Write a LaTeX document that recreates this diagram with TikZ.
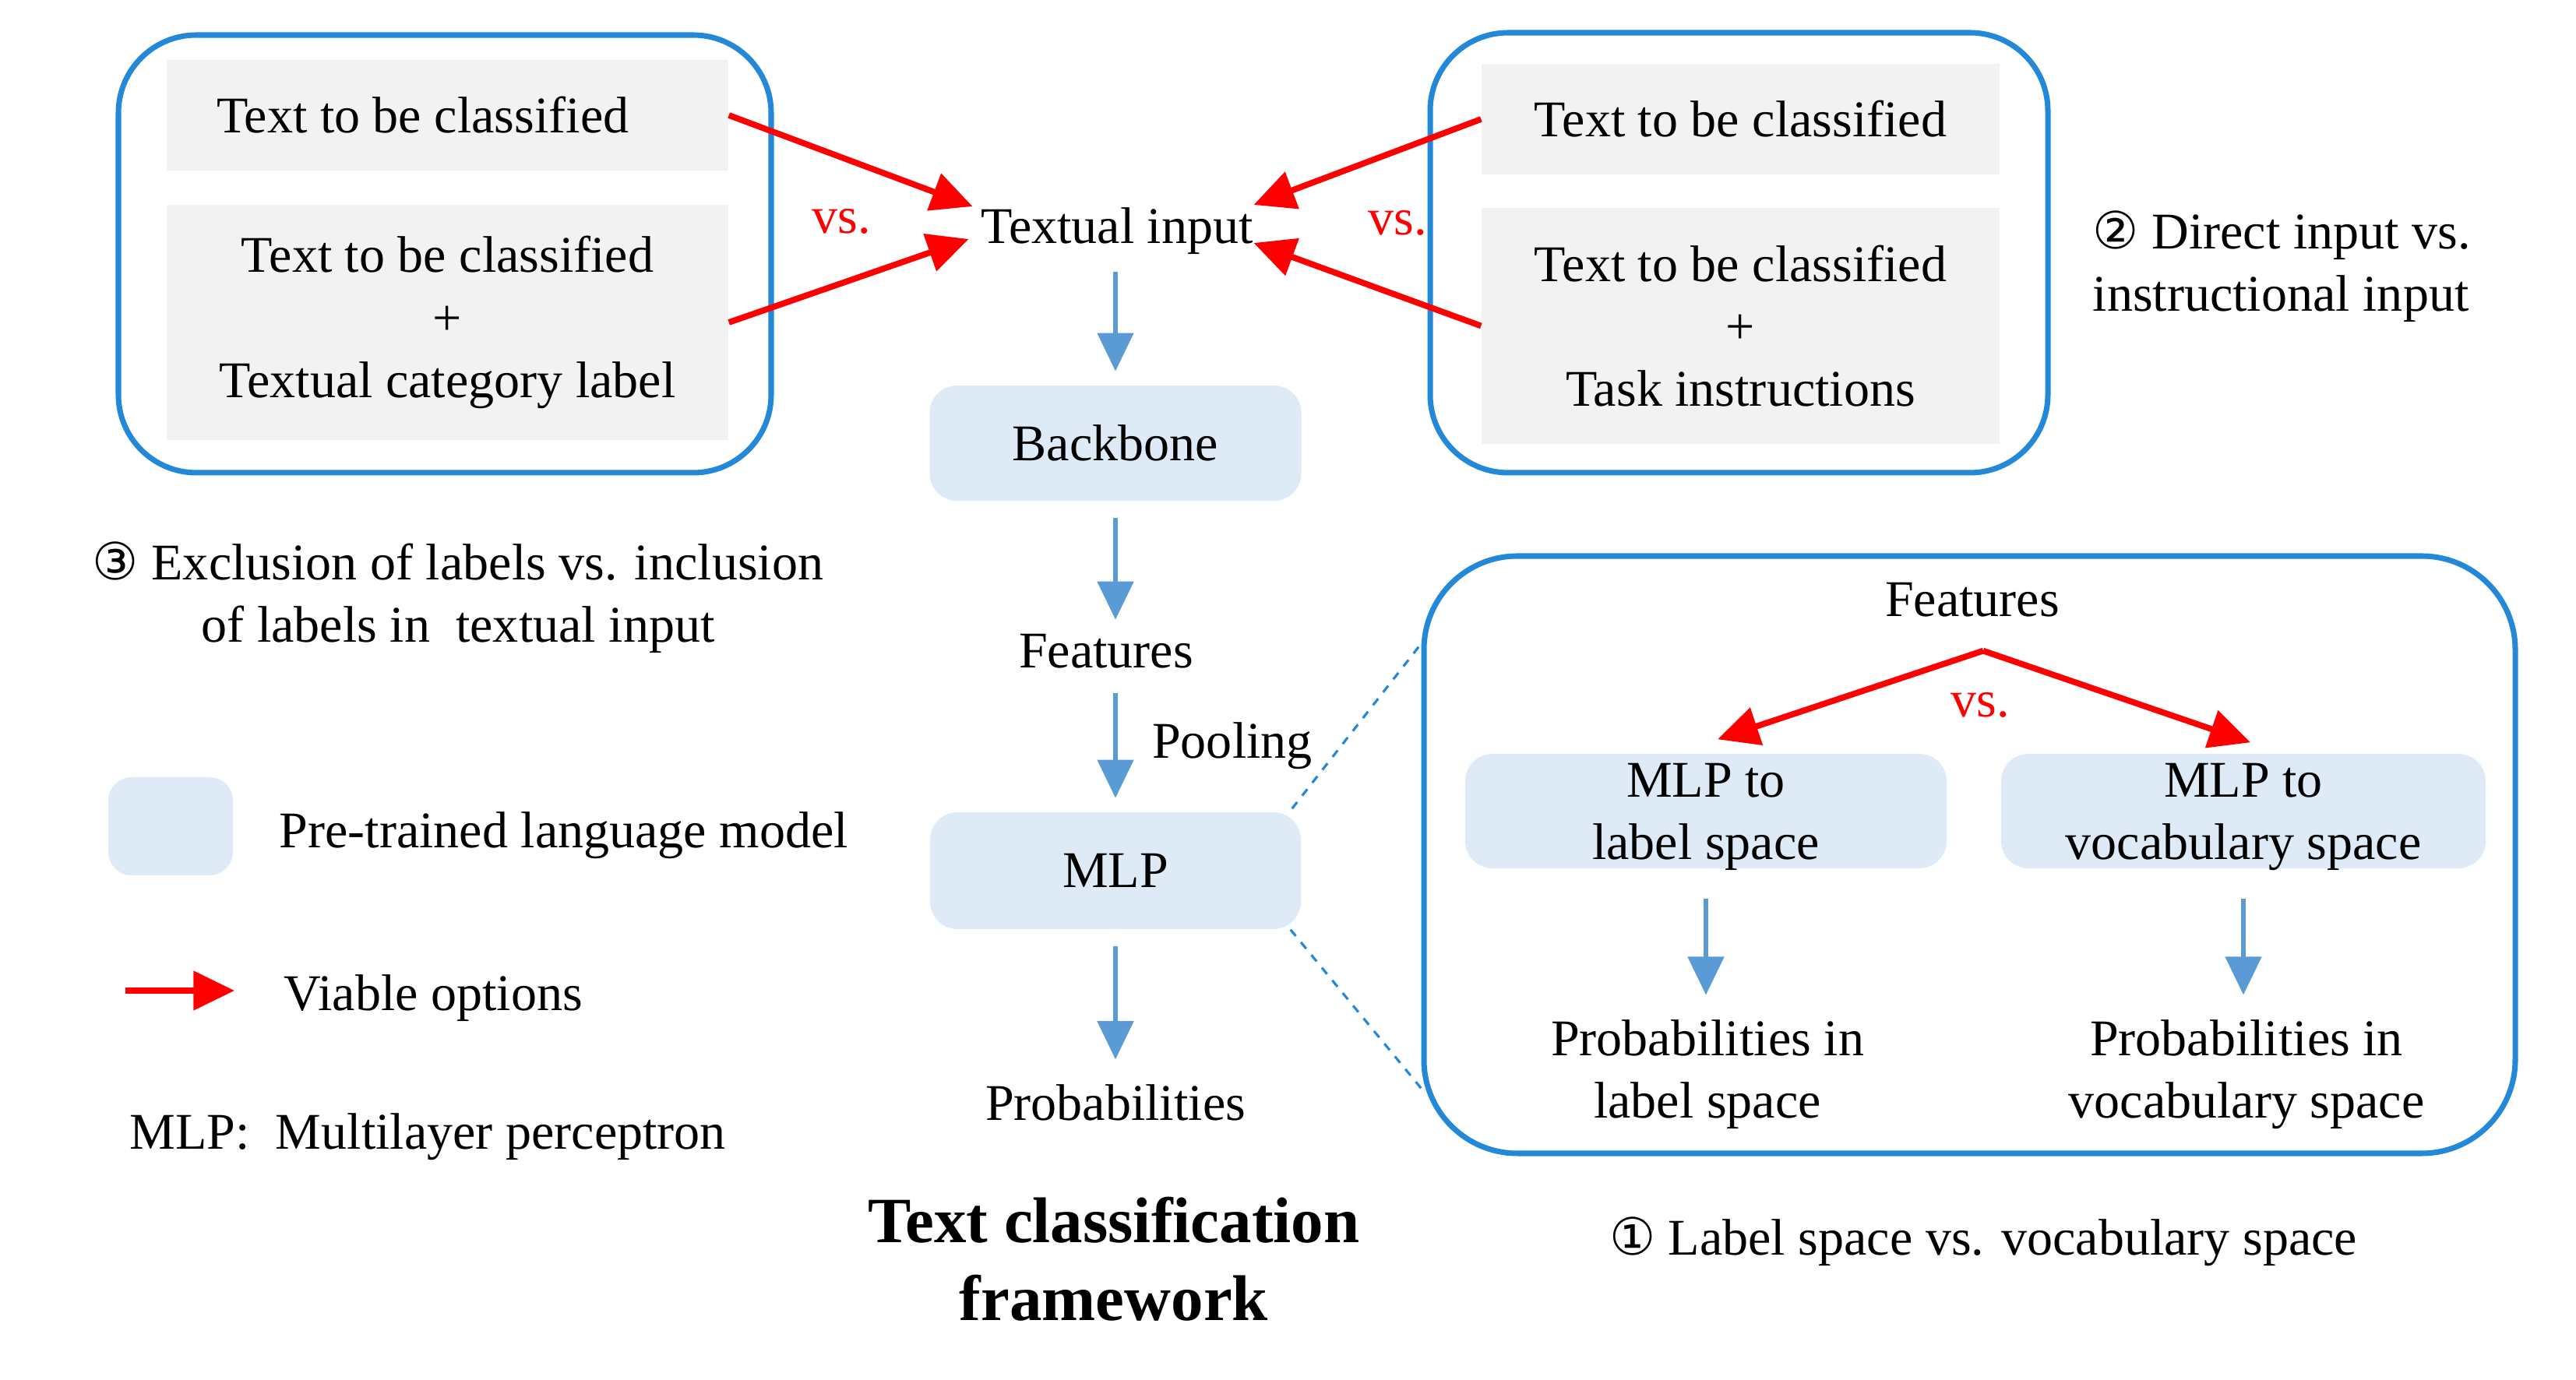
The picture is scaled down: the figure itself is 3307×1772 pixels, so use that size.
\documentclass[tikz,border=0pt]{standalone}
\usepackage{fontspec}
\setmainfont{Liberation Serif}
\newfontfamily\circfont{DejaVu Sans}
\usepackage{tikz}
\usetikzlibrary{arrows.meta, calc}
\usepackage{xcolor}

\definecolor{frameblue}{RGB}{35,136,215}
\definecolor{plmblue}{RGB}{222,234,246}
\definecolor{inputgray}{RGB}{242,242,242}
\definecolor{flowblue}{RGB}{91,155,213}

\tikzset{
	frame/.style={draw=frameblue, line width=2pt, rounded corners=10mm},
	inbox/.style={fill=inputgray, align=center, inner sep=0pt},
	plm/.style={fill=plmblue, rounded corners=3.5mm, align=center, inner sep=0pt},
	option/.style={red, line width=2.2pt, -{Triangle[length=15pt,width=14pt]}},
	flow/.style={flowblue, line width=1.8pt, -{Triangle[length=14pt,width=13pt]}, shorten <=6pt, shorten >=5pt},
	zoomline/.style={frameblue, dashed, line width=0.9pt},
	txt/.style={align=center, inner sep=0pt},
}
\newcommand{\circnum}[1]{{\circfont #1}}

\begin{document}
\begin{tikzpicture}[x=0.1mm, y=-0.1mm, every node/.style={font=\fontsize{18.8}{22.8}\selectfont}]
	\useasboundingbox (0,0) rectangle (3307,1772);
	\node [frame, minimum width=83.8mm, minimum height=56.2mm] (leftframe) at (571,326) {};
	\node [inbox, minimum width=72.1mm, minimum height=14.2mm, text width=59.3mm, align=flush left, inner xsep=6.4mm] (lab1) at (574.5,148) {Text to be classified};
	\node [inbox, minimum width=72.1mm, minimum height=30.2mm] (lab2) at (574.5,414) {Text to be classified\\+\\Textual category label};
	\node [frame, minimum width=79.3mm, minimum height=56.5mm] (rightframe) at (2232.5,324.5) {};
	\node [inbox, minimum width=66.5mm, minimum height=14.2mm] (ins1) at (2234.5,153) {Text to be classified};
	\node [inbox, minimum width=66.5mm, minimum height=30.3mm] (ins2) at (2234.5,418.5) {Text to be classified\\+\\Task instructions};
	\node [txt] (input) at (1434,297) {Textual input};
	\node [txt, red] (vs1) at (1080,284) {vs.};
	\node [txt, red] (vs2) at (1794,286) {vs.};
	\draw [option] (lab1.east) -- ($(input.west)+(-10,-32)$);
	\draw [option] (lab2.east) -- ($(input.west)+(-15,10)$);
	\draw [option] (ins1.west) -- ($(input.east)+(0,-34)$);
	\draw [option] (ins2.west) -- ($(input.east)+(0,15)$);

	\node [plm, minimum width=47.7mm, minimum height=14.8mm] (backbone) at (1432,569) {Backbone};
	\node [txt] (feat) at (1420,836) {Features};
	\node [txt] (pool) at (1582,958) {Pooling};
	\node [plm, minimum width=47.6mm, minimum height=15mm] (mlp) at (1432,1118) {MLP};
	\node [txt] (prob) at (1432,1416) {Probabilities};
	\node [txt, font=\fontsize{23.6}{28.5}\selectfont\bfseries] (title) at (1430,1617) {Text classification\\framework};
	\draw [flow] (backbone.north |- input.south) -- (backbone.north);
	\draw [flow] (backbone.south) -- (backbone.south |- feat.north);
	\draw [flow, shorten <=9pt] (mlp.north |- feat.south) -- (mlp.north);
	\draw [flow, shorten >=9pt] (mlp.south) -- (prob.north);

	\node [txt] (note3) at (588,767) {\circnum{③} Exclusion of labels vs. inclusion\\of labels in\ \ textual input};
	\node [txt, align=left, anchor=west] (note2) at (2686,342) {\circnum{②} Direct input vs.\\instructional input};

	\node [plm, rounded corners=3mm, minimum width=16mm, minimum height=12.6mm] (legplm) at (219,1061) {};
	\node [txt, anchor=west] (legplmtext) at (358,1073) {Pre-trained language model};
	\coordinate (legtail) at (161,1272);
	\coordinate (leghead) at (301,1272);
	\draw [option] (legtail) -- (leghead);
	\node [txt, anchor=west] (legopt) at (364,1282) {Viable options};
	\node [txt, anchor=west] (legmlp) at (166,1460) {MLP:\ \ Multilayer perceptron};

	\node [frame, rounded corners=12mm, minimum width=140.1mm, minimum height=76.7mm] (zoomframe) at (2528.5,1097.5) {};
	\node [txt] (feat2) at (2532,770) {Features};
	\coordinate (fork) at ($(feat2.south)+(14,43)$);
	\node [plm, minimum width=61.8mm, minimum height=14.7mm, text depth=0pt] (mlplabel) at (2190,1041.5) {MLP to\\label space};
	\node [plm, minimum width=62.2mm, minimum height=14.7mm, text depth=0pt] (mlpvocab) at (2880,1041.5) {MLP to\\vocabulary space};
	\node [txt, red] (vs3) at (2542,905) {vs.};
	\draw [option] (fork) -- ($(mlplabel.north)+(15,-18)$);
	\draw [option] (fork) -- ($(mlpvocab.north)+(9,-14)$);
	\node [txt] (problabel) at (2192,1380) {Probabilities in\\label space};
	\node [txt] (probvocab) at (2884,1380) {Probabilities in\\vocabulary space};
	\draw [flow, shorten <=11pt, shorten >=9pt] (mlplabel.south) -- (mlplabel.south |- problabel.north);
	\draw [flow, shorten <=11pt, shorten >=9pt] (mlpvocab.south) -- (mlpvocab.south |- probvocab.north);
	\draw [zoomline] ($(mlp.north east)+(-12,-4)$) -- ($(zoomframe.north west)+(0,116)$);
	\draw [zoomline] ($(mlp.south east)+(-14,0)$) -- ($(zoomframe.south west)+(0,-87)$);

	\node [txt] (note1) at (2546,1594) {\circnum{①} Label space vs. vocabulary space};
\end{tikzpicture}
\end{document}
